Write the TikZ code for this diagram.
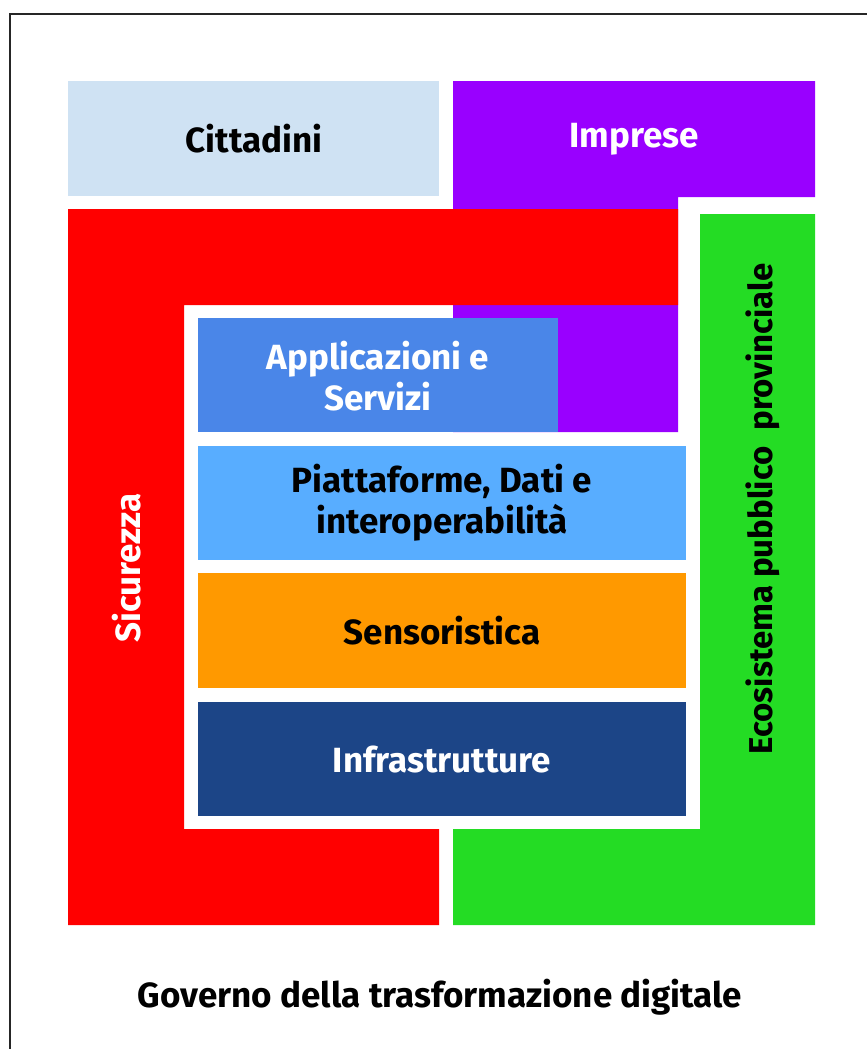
\documentclass[tikz,border=0pt]{standalone}
\usepackage{fontspec}
\setmainfont{Fira Sans}
\begin{document}
\begin{tikzpicture}[x=1pt,y=-1pt,
  lab/.style={font=\fontsize{35}{41}\selectfont\bfseries, align=center, inner sep=0pt},
  blk/.style={draw=none}]
\useasboundingbox (0,0) rectangle (867,1049);
\definecolor{citt}{HTML}{CFE2F3}
\definecolor{purp}{HTML}{9900FF}
\definecolor{redd}{HTML}{FF0000}
\definecolor{gree}{HTML}{24DC24}
\definecolor{appl}{HTML}{4A86E8}
\definecolor{piat}{HTML}{58ADFF}
\definecolor{sens}{HTML}{FF9900}
\definecolor{infr}{HTML}{1C4587}
% frame
\draw[line width=1.5pt, draw=black!85] (10,1060) -- (10,14) -- (880,14);
% Cittadini
\fill[citt] (68,81) rectangle (439,196);
% Imprese
\fill[purp] (453,81) -- (815,81) -- (815,197) -- (678,197) -- (678,432) -- (453,432) -- cycle;
% Sicurezza
\fill[redd] (68,209) -- (678,209) -- (678,305) -- (184,305) -- (184,829) -- (439,829) -- (439,925) -- (68,925) -- cycle;
% Ecosistema
\fill[gree] (700,214) -- (815,214) -- (815,925) -- (453,925) -- (453,829) -- (700,829) -- cycle;
% layers
\fill[appl] (198,318) rectangle (558,432);
\fill[piat] (198,446) rectangle (686,560);
\fill[sens] (198,573) rectangle (686,688);
\fill[infr] (198,702) rectangle (686,816);
% labels
\node[lab, text=black] (cittadini) at (254,139) {Cittadini};
\node[lab, text=white] (imprese) at (634,139) {Imprese};
\node[lab, text=white] (applicazioni) at (378,376) {Applicazioni e\\Servizi};
\node[lab, text=black] (piattaforme) at (442,503) {Piattaforme, Dati e\\interoperabilità};
\node[lab, text=black] (sensoristica) at (442,631) {Sensoristica};
\node[lab, text=white] (infrastrutture) at (442,760) {Infrastrutture};
\node[lab, text=white, rotate=90, anchor=base] (sicurezza) at (140,568) {Sicurezza};
\node[lab, font=\fontsize{33}{40}\selectfont\bfseries, text=black, rotate=90, anchor=base] (ecosistema) at (772,509) {Ecosistema pubblico\ \ provinciale};
\node[lab, text=black, anchor=base] (governo) at (440,1007) {Governo della trasformazione digitale};
\end{tikzpicture}
\end{document}
